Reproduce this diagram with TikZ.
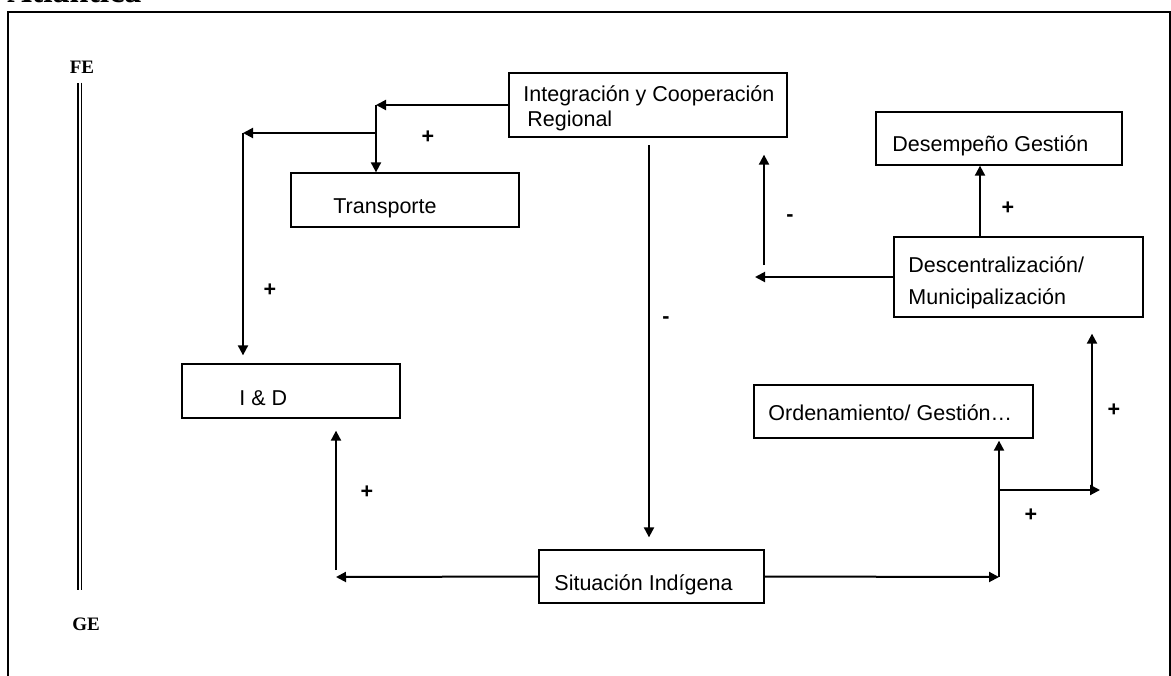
\documentclass[tikz,border=0pt]{standalone}
\usepackage{fontspec}
\setmainfont{Liberation Serif}
\newfontfamily\arialfont{Liberation Sans}
\usetikzlibrary{arrows.meta}

\tikzset{
  box/.style = {draw, line width=0.65pt, inner sep=0pt, rectangle},
  txt/.style = {anchor=base west, inner sep=0pt, font=\arialfont\fontsize{10.75}{13}\selectfont},
  sgn/.style = {inner sep=0pt, font=\arialfont\bfseries\fontsize{10.75}{13}\selectfont},
  arr/.style = {line width=1pt, -{Triangle[length=5pt,width=5pt]}},
  edge/.style = {inner sep=0pt, font=\bfseries\fontsize{9.5}{11}\selectfont}
}

\begin{document}
\begin{tikzpicture}[x=0.5pt, y=-0.5pt]
   \useasboundingbox (0,0) rectangle (1171,675);

   % frame and heading
   \node[anchor=base west, inner sep=0pt, font=\bfseries\fontsize{17}{20}\selectfont] (head) at (7,2) {Atlántica};
   \draw[line width=1pt] (8,700) -- (8,12) -- (1169.5,12) -- (1169.5,700);

   % FE -- GE
   \node[edge] (fe) at (82,67) {FE};
   \node[edge] (ge) at (86,624) {GE};
   \draw[line width=0.6pt, double, double distance=1pt, shorten <=4.5pt, shorten >=13.5pt]
        ([xshift=-1.25pt]fe.south) -- ([xshift=-1.25pt]fe.south |- ge.north);

   % boxes
   \node[box, minimum width=139pt, minimum height=32pt] (int) at (648,105) {};
   \node[box, minimum width=114pt, minimum height=27pt] (trans) at (405,200) {};
   \node[box, minimum width=123pt, minimum height=26.5pt] (dg) at (999,138.5) {};
   \node[box, minimum width=124.5pt, minimum height=40pt] (desc) at (1018.5,277) {};
   \node[box, minimum width=109pt, minimum height=27pt] (id) at (291,391) {};
   \node[box, minimum width=139.5pt, minimum height=26.5pt] (ord) at (893.5,411.5) {};
   \node[box, minimum width=112.5pt, minimum height=26.5pt] (sit) at (651.5,576.5) {};

   % box texts
   \node[txt] (intA) at (523,101) {Integración y Cooperación};
   \node[txt] (intB) at (527,126) {Regional};
   \node[txt] (transT) at (333,213) {Transporte};
   \node[txt] (dgT) at (892,151) {Desempeño Gestión};
   \node[txt] (descA) at (908,272) {Descentralización/};
   \node[txt] (descB) at (908,304) {Municipalización};
   \node[txt] (idT) at (239,405) {I \& D};
   \node[txt] (ordT) at (768,420) {Ordenamiento/ Gestión…};
   \node[txt] (sitT) at (554,590) {Situación Indígena};

   % joints
   \coordinate (tA) at (376,105);
   \coordinate (bA) at (376,133);
   \coordinate (tB) at (243,133);
   \coordinate (tC) at (336,577);
   \coordinate (tD) at (999,577);
   \coordinate (bD) at (999,490);
   \coordinate (tE) at (1100,490);
   \coordinate (bE) at (1092,490);
   \coordinate (tF) at (755,277);
   \coordinate (bF) at (764,265);
   \coordinate (bG) at (980,237);
   \coordinate (bH) at (649,137);

   % connectors
   \draw[arr] (int.west) -- (tA);
   \draw[arr] (tA) -- (tA |- trans.north);
   \draw[arr] (bA) -- (tB);
   \draw[arr, shorten >=4pt] (tB) -- (tB |- id.north);
   \draw[arr, shorten <=4pt, shorten >=6pt] (bH) -- (bH |- sit.north);
   \draw[arr] (sit.west) -- (tC);
   \draw[arr, shorten <=3.5pt, shorten >=6pt] (tC) -- (tC |- id.south);
   \draw[arr] (sit.east) -- (tD);
   \draw[arr, shorten >=1pt] (tD) -- (tD |- ord.south);
   \draw[arr] (bD) -- (tE);
   \draw[arr, shorten >=8pt] (bE) -- (bE |- desc.south);
   \draw[arr] (desc.west) -- (tF);
   \draw[arr, shorten >=8.5pt] (bF) -- (bF |- int.south);
   \draw[arr] (bG) -- (bG |- dg.south);

   % signs
   \node[sgn] (p1) at (428,137) {+};
   \node[sgn] (p2) at (270,290) {+};
   \node[sgn] (p3) at (367,492) {+};
   \node[sgn] (p4) at (1008,208) {+};
   \node[sgn] (p5) at (1114,410) {+};
   \node[sgn] (p6) at (1031,515) {+};
   \node[sgn] (m1) at (790,218) {-};
   \node[sgn] (m2) at (666,320) {-};
\end{tikzpicture}
\end{document}
